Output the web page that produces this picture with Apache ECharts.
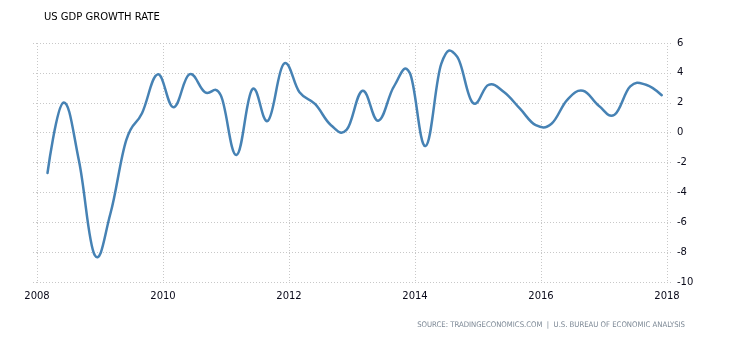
<!DOCTYPE html>
<html><head><meta charset="utf-8">
<script src="https://cdn.jsdelivr.net/npm/echarts@6/dist/echarts.min.js"></script>
<style>html,body{margin:0;padding:0;background:#fff}#c{width:730px;height:340px}</style>
</head><body><div id="c"></div>
<script>
const quarterDates = [
  '2008-03','2008-06','2008-09','2008-12',
  '2009-03','2009-06','2009-09','2009-12',
  '2010-03','2010-06','2010-09','2010-12',
  '2011-03','2011-06','2011-09','2011-12',
  '2012-03','2012-06','2012-09','2012-12',
  '2013-03','2013-06','2013-09','2013-12',
  '2014-03','2014-06','2014-09','2014-12',
  '2015-03','2015-06','2015-09','2015-12',
  '2016-03','2016-06','2016-09','2016-12',
  '2017-03','2017-06','2017-09','2017-12'
];
const gdpGrowth = [
  -2.7, 2.0, -1.9, -8.2,
  -5.4, -0.5, 1.3, 3.9,
  1.7, 3.9, 2.7, 2.5,
  -1.5, 2.9, 0.8, 4.6,
  2.7, 1.9, 0.5, 0.2,
  2.8, 0.8, 3.1, 4.0,
  -0.9, 4.6, 5.1, 2.0,
  3.2, 2.7, 1.6, 0.5,
  0.6, 2.2, 2.8, 1.8,
  1.2, 3.1, 3.2, 2.5
];
const xRange = [2008, 2018];
const yRange = [-10, 6];
const chartTitle = 'US GDP GROWTH RATE';
const sourceText = 'SOURCE: TRADINGECONOMICS.COM  |  U.S. BUREAU OF ECONOMIC ANALYSIS';

function toYear(s) {
  const [y, m] = s.split('-').map(Number);
  return y + (m - 1) / 12;
}
const seriesData = quarterDates.map((d, i) => [toYear(d), gdpGrowth[i]]);

// Spline control points (cardinal-style smoothing) computed from the axis-mapped points
function splinePath(pts) {
  const s = 1.5, den = s + 1, n = pts.length;
  const L = [], R = [];
  for (let i = 0; i < n; i++) {
    const p = pts[i];
    if (i === 0 || i === n - 1) { L.push(p); R.push(p); continue; }
    const a = pts[i - 1], b = pts[i + 1];
    let lx = (s * p[0] + a[0]) / den, ly = (s * p[1] + a[1]) / den;
    let rx = (s * p[0] + b[0]) / den, ry = (s * p[1] + b[1]) / den;
    let corr = 0;
    if (rx !== lx) corr = ((ry - ly) * (rx - p[0])) / (rx - lx) + p[1] - ry;
    L.push([lx, ly + corr]); R.push([rx, ry + corr]);
  }
  let d = 'M' + pts[0][0].toFixed(2) + ',' + pts[0][1].toFixed(2);
  for (let i = 1; i < n; i++) {
    d += 'C' + R[i - 1][0].toFixed(2) + ',' + R[i - 1][1].toFixed(2) + ' ' +
      L[i][0].toFixed(2) + ',' + L[i][1].toFixed(2) + ' ' +
      pts[i][0].toFixed(2) + ',' + pts[i][1].toFixed(2);
  }
  return d;
}

const gridLine = { color: '#c8c8c8', type: [1, 2], width: 1 };
const labelFont = { color: '#0a0a1a', fontSize: 10, fontFamily: 'DejaVu Sans' };

const chart = echarts.init(document.getElementById('c'), null, { renderer: 'canvas' });
chart.setOption({
  animation: false,
  backgroundColor: '#fff',
  title: {
    text: chartTitle,
    left: 39, top: 7,
    textStyle: { fontSize: 10, fontWeight: 'normal', color: '#000', fontFamily: 'DejaVu Sans' }
  },
  grid: { left: 37, right: 63, top: 43, bottom: 58, containLabel: false },
  xAxis: {
    type: 'value', min: xRange[0], max: xRange[1], interval: 2,
    axisLine: { show: false },
    axisTick: { show: true, length: 4, lineStyle: gridLine },
    splitLine: { show: true, lineStyle: gridLine },
    axisLabel: { ...labelFont, margin: 9, formatter: v => String(v) }
  },
  yAxis: [{
    type: 'value', position: 'right', min: yRange[0], max: yRange[1], interval: 2,
    axisLine: { show: false },
    axisTick: { show: true, length: 4, lineStyle: gridLine },
    splitLine: { show: true, lineStyle: gridLine },
    axisLabel: { ...labelFont, margin: 10 }
  }, {
    type: 'value', position: 'left', min: yRange[0], max: yRange[1], interval: 2,
    axisLine: { show: false },
    axisTick: { show: true, length: 5, lineStyle: gridLine },
    splitLine: { show: false },
    axisLabel: { show: false }
  }],
  graphic: [{
    type: 'text', right: 45, top: 321,
    style: { text: sourceText, fill: '#7b8794', fontSize: 7.7, fontFamily: 'DejaVu Sans Condensed, DejaVu Sans, sans-serif' }
  }],
  series: [{
    type: 'custom', name: 'GDP Growth Rate', yAxisIndex: 0,
    data: seriesData, encode: { x: 0, y: 1 },
    renderItem: function (params, api) {
      if (params.dataIndex !== seriesData.length - 1) return null;
      const pts = seriesData.map(d => api.coord(d));
      return {
        type: 'path',
        shape: { pathData: splinePath(pts) },
        style: { stroke: '#4682b4', lineWidth: 2.5, fill: null, lineJoin: 'round', lineCap: 'round' }
      };
    }
  }]
});
</script>
</body></html>
